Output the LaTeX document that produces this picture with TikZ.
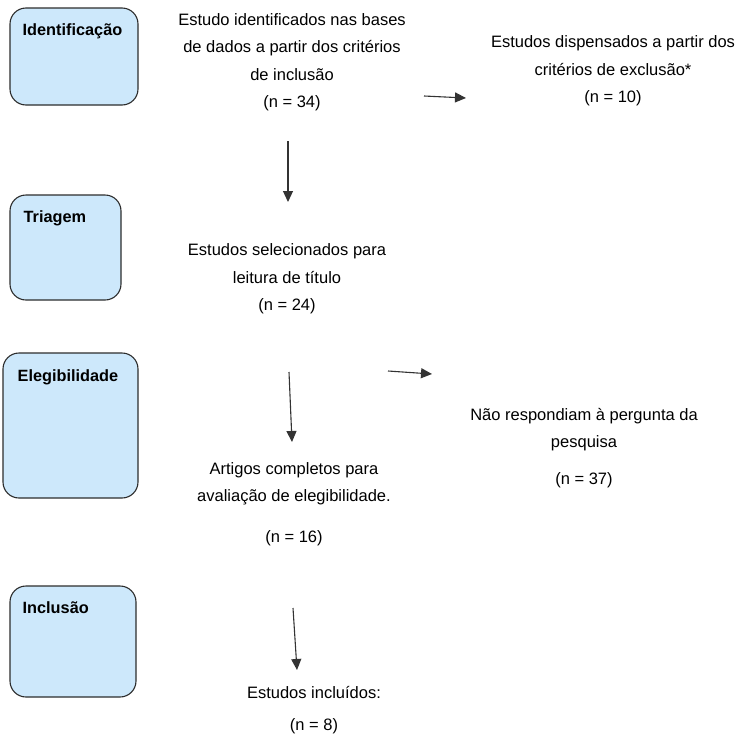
\documentclass[tikz,border=0pt]{standalone}
\usepackage{fontspec}
\setmainfont{Liberation Sans}
\usetikzlibrary{arrows.meta}
\definecolor{stagefill}{RGB}{205,232,251}
\definecolor{stageline}{RGB}{45,45,45}
\begin{document}
\begin{tikzpicture}[x=1pt,y=-1pt,
  stage/.style={draw=stageline, line width=1.1pt, fill=stagefill, rounded corners=16pt, inner sep=0pt},
  stagelabel/.style={anchor=base west, inner sep=0pt, font=\fontsize{16.3}{19}\selectfont\bfseries},
  txt/.style={align=center, inner sep=0pt, font=\fontsize{16.5}{27.5}\selectfont},
  arr/.style={draw=black!80, line width=1.1pt, -{Triangle[length=11pt,width=10pt]}}]
\useasboundingbox (0,0) rectangle (739,734);
% stages on the left
\node[stage, minimum width=128pt, minimum height=97pt] (stage1) at (74,56.5){};
\node[stage, minimum width=111pt, minimum height=105pt] (stage2) at (65.5,247.5){};
\node[stage, minimum width=135pt, minimum height=145pt] (stage3) at (70.5,425.5){};
\node[stage, minimum width=126pt, minimum height=111pt] (stage4) at (73,641.5){};
\node[stagelabel] (lab1) at ([shift={(13,28)}]stage1.north west){Identificação};
\node[stagelabel] (lab2) at ([shift={(14,28)}]stage2.north west){Triagem};
\node[stagelabel] (lab3) at ([shift={(15,29)}]stage3.north west){Elegibilidade};
\node[stagelabel] (lab4) at ([shift={(13,28)}]stage4.north west){Inclusão};
% texts
\node[txt] (txt1) at (292,62){Estudo identificados nas bases\\de dados a partir dos critérios\\de inclusão\\(n = 34)};
\node[txt] (txt2) at (613,71){Estudos dispensados a partir dos\\critérios de exclusão*\\(n = 10)};
\node[txt] (txt3) at (287,279){Estudos selecionados para\\leitura de título\\(n = 24)};
\node[txt] (txt4) at (584,448){Não respondiam à pergunta da\\pesquisa\\[9pt](n = 37)};
\node[txt] (txt5) at (294,504){Artigos completos para\\avaliação de elegibilidade.\\[13pt](n = 16)};
\node[txt] (txt6) at (314,710){Estudos incluídos:\\[5pt](n = 8)};
% arrows
\coordinate (a1s) at (288,141);
\coordinate (a1e) at (288,202);
\coordinate (a2s) at (424,96);
\coordinate (a2e) at (466,98);
\coordinate (a3s) at (289,372);
\coordinate (a3e) at (292,442);
\coordinate (a4s) at (388,371);
\coordinate (a4e) at (432,374);
\coordinate (a5s) at (293,608);
\coordinate (a5e) at (297,670);
\draw[arr](a1s) -- (a1e);
\draw[arr](a2s) -- (a2e);
\draw[arr](a3s) -- (a3e);
\draw[arr](a4s) -- (a4e);
\draw[arr](a5s) -- (a5e);
\end{tikzpicture}
\end{document}
